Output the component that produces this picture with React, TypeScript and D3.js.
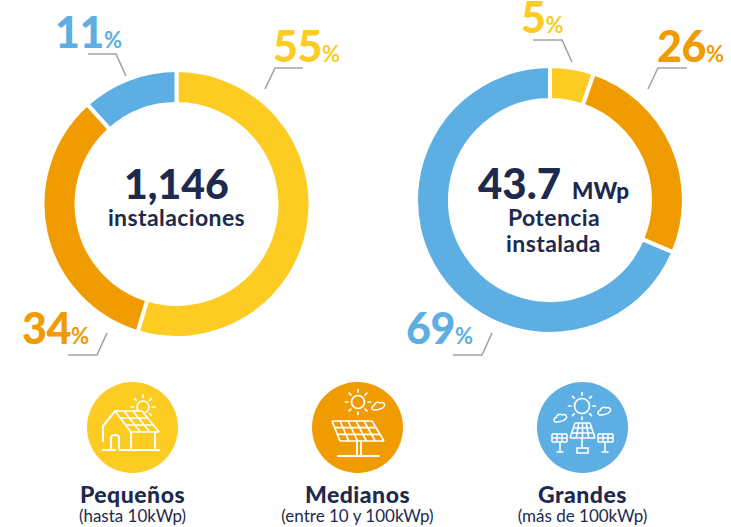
import React from "react";
import * as d3 from "d3";

const W = 731, H = 527;
const YELLOW = "#FCCC22", ORANGE = "#F09B00", BLUE = "#5DAFE3", NAVY = "#1D2A4D", GREY = "#A3A3A3";
const FONT = "Lato, 'Noto Sans', sans-serif";

const installColors = [YELLOW, ORANGE, BLUE];
const installLabels = [55, 34, 11];
const installShares = [54.7, 33.7, 11.6];
const powerColors = [YELLOW, ORANGE, BLUE];
const powerLabels = [5, 26, 69];
const powerShares = [5.3, 26.1, 68.6];

const categoryNames = ["Pequeños", "Medianos", "Grandes"];
const categorySubs = ["(hasta 10kWp)", "(entre 10 y 100kWp)", "(más de 100kWp)"];
const categoryColors = [YELLOW, ORANGE, BLUE];

function Donut({ cx, cy, values, colors }: { cx: number; cy: number; values: number[]; colors: string[] }) {
  const pie = d3.pie<number>().sort(null)(values);
  const arc = d3.arc<d3.PieArcDatum<number>>().innerRadius(100).outerRadius(134);
  return (
    <g transform={`translate(${cx},${cy})`}>
      {pie.map((p, i) => (
        <path key={i} d={arc(p) || ""} fill={colors[i]} stroke="#fff" strokeWidth={4} />
      ))}
    </g>
  );
}

function Pct({ x, y, value, color }: { x: number; y: number; value: number; color: string }) {
  return (
    <text x={x} y={y} fill={color} fontFamily={FONT} fontWeight={900} fontSize={43} letterSpacing={-0.5}>
      {value}
      <tspan fontSize={22} fontWeight={700} letterSpacing={0}>%</tspan>
    </text>
  );
}

const Leader = ({ d }: { d: string }) => <path d={d} fill="none" stroke={GREY} strokeWidth={1.6} />;

function Sun({ x, y, r }: { x: number; y: number; r: number }) {
  const rays = d3.range(8).map((i) => (i * Math.PI) / 4);
  return (
    <g fill="none" stroke="#fff" strokeWidth={1.7} strokeLinecap="round">
      <circle cx={x} cy={y} r={r} />
      {rays.map((a, i) => (
        <line key={i} x1={x + Math.cos(a) * (r + 3.5)} y1={y + Math.sin(a) * (r + 3.5)} x2={x + Math.cos(a) * (r + 6)} y2={y + Math.sin(a) * (r + 6)} />
      ))}
    </g>
  );
}

const Cloud = ({ x, y, s = 1 }: { x: number; y: number; s?: number }) => (
  <path
    transform={`translate(${x},${y}) rotate(-15) scale(${s})`}
    d="M-6 3 C-9 3 -9 -2 -5 -2 C-4 -5 1 -5 2 -3 C6 -4 8 1 5 2 C3 4 -3 4 -6 3Z"
    fill="none"
    stroke="#fff"
    strokeWidth={1.6}
  />
);

function PanelGrid({ corners, rows, cols, w = 1.3, fill = "none" }: { corners: number[][]; rows: number; cols: number; w?: number; fill?: string }) {
  const [tl, tr, br, bl] = corners;
  const lerp = (a: number[], b: number[], t: number) => [a[0] + (b[0] - a[0]) * t, a[1] + (b[1] - a[1]) * t];
  const lines: string[] = [];
  d3.range(rows + 1).forEach((i) => {
    const a = lerp(tl, bl, i / rows), b = lerp(tr, br, i / rows);
    lines.push(`M${a[0]} ${a[1]}L${b[0]} ${b[1]}`);
  });
  d3.range(cols + 1).forEach((i) => {
    const a = lerp(tl, tr, i / cols), b = lerp(bl, br, i / cols);
    lines.push(`M${a[0]} ${a[1]}L${b[0]} ${b[1]}`);
  });
  return (
    <g>
      <path d={`M${corners.map((c) => c.join(" ")).join("L")}Z`} fill={fill} />
      <path d={lines.join("")} fill="none" stroke="#fff" strokeWidth={w} />
    </g>
  );
}

function HouseIcon() {
  return (
    <g>
      <Sun x={143} y={407} r={6} />
      <PanelGrid corners={[[115, 411], [142, 411], [159, 432], [131, 432]]} rows={3} cols={3} w={1.7} fill={YELLOW} />
      <path
        d="M115 411 L103 426 L103 441 M131 432 L131 450 M155 432 L155 450 M103 450 H115 M120 450 H159"
        fill="none" stroke="#fff" strokeWidth={2.1} strokeLinecap="round" strokeLinejoin="round"
      />
      <path d="M111 450 L111 438 Q111 435 115 435 Q119 435 119 438 L119 449" fill="none" stroke="#fff" strokeWidth={2.1} strokeLinecap="round" />
    </g>
  );
}

function PanelIcon() {
  return (
    <g>
      <Sun x={358} y={402} r={6.5} />
      <Cloud x={379} y={406} s={0.9} />
      <PanelGrid corners={[[332, 421], [372, 421], [384, 441], [340, 441]]} rows={3} cols={5} w={1.7} />
      <path d="M357 441 L357 455 M361 441 L361 455 M338 456 L379 456" fill="none" stroke="#fff" strokeWidth={1.8} strokeLinecap="round" />
    </g>
  );
}

function ParkIcon() {
  return (
    <g>
      <Sun x={582} y={406} r={7.5} />
      <Cloud x={561} y={418} s={0.9} />
      <Cloud x={605} y={411} s={0.9} />
      <PanelGrid corners={[[575, 423], [590, 423], [595, 438], [570, 438]]} rows={3} cols={4} w={1.6} />
      <PanelGrid corners={[[552, 434], [567, 434], [567, 442], [552, 442]]} rows={2} cols={3} w={1.5} />
      <PanelGrid corners={[[598, 434], [613, 434], [613, 442], [598, 442]]} rows={2} cols={3} w={1.5} />
      <path
        d="M582 438 L582 448 M577 448 H588 V453 H577 Z M560 442 V452 M557 452 H563 M605 442 V452 M602 452 H608"
        fill="none" stroke="#fff" strokeWidth={1.6} strokeLinecap="round"
      />
    </g>
  );
}

const icons = [HouseIcon, PanelIcon, ParkIcon];
const iconX = [132.5, 357.5, 582.5];

const midLabel = { fontFamily: FONT, fontWeight: 700, fontSize: 23, letterSpacing: 0.4 } as const;

export default function App() {
  return (
    <svg width={W} height={H} style={{ position: "absolute", left: 0, top: 0 }}>
      <rect width={W} height={H} fill="#fff" />
      <Donut cx={176.5} cy={204} values={installShares} colors={installColors} />
      <Donut cx={550} cy={200} values={powerShares} colors={powerColors} />

      <Pct x={55} y={48} value={installLabels[2]} color={BLUE} />
      <Leader d="M88 54 H116 L126 76" />
      <Pct x={273} y={62} value={installLabels[0]} color={YELLOW} />
      <Leader d="M303 68 H275 L265 89" />
      <Pct x={22} y={344} value={installLabels[1]} color={ORANGE} />
      <Leader d="M68 355 H97 L107 333" />

      <Pct x={521} y={33} value={powerLabels[0]} color={YELLOW} />
      <Leader d="M533 40 H562 L572 62" />
      <Pct x={657} y={62} value={powerLabels[1]} color={ORANGE} />
      <Leader d="M687 68 H658 L648 89" />
      <Pct x={406} y={344} value={powerLabels[2]} color={BLUE} />
      <Leader d="M453 355 H482 L492 333" />

      <text x={176.5} y={199} textAnchor="middle" fill={NAVY} fontFamily={FONT} fontWeight={900} fontSize={41}>1,146</text>
      <text x={176.5} y={226} textAnchor="middle" fill={NAVY} {...midLabel}>instalaciones</text>
      <text x={553.5} y={199} textAnchor="middle" fill={NAVY} fontFamily={FONT} fontWeight={900}>
        <tspan fontSize={42}>43.7</tspan>
        <tspan fontSize={22.5} dx={11}>MWp</tspan>
      </text>
      <text x={554} y={226} textAnchor="middle" fill={NAVY} {...midLabel}>Potencia</text>
      <text x={553.5} y={252} textAnchor="middle" fill={NAVY} {...midLabel}>instalada</text>

      {categoryNames.map((name, i) => {
        const Icon = icons[i];
        return (
          <g key={name}>
            <circle cx={iconX[i]} cy={427.5} r={45.5} fill={categoryColors[i]} />
            <Icon />
            <text x={iconX[i]} y={503} textAnchor="middle" fill={NAVY} fontFamily={FONT} fontWeight={900} fontSize={23} letterSpacing={0.5}>{name}</text>
            <text x={iconX[i]} y={522} textAnchor="middle" fill={NAVY} fontFamily={FONT} fontSize={17}>{categorySubs[i]}</text>
          </g>
        );
      })}
    </svg>
  );
}
